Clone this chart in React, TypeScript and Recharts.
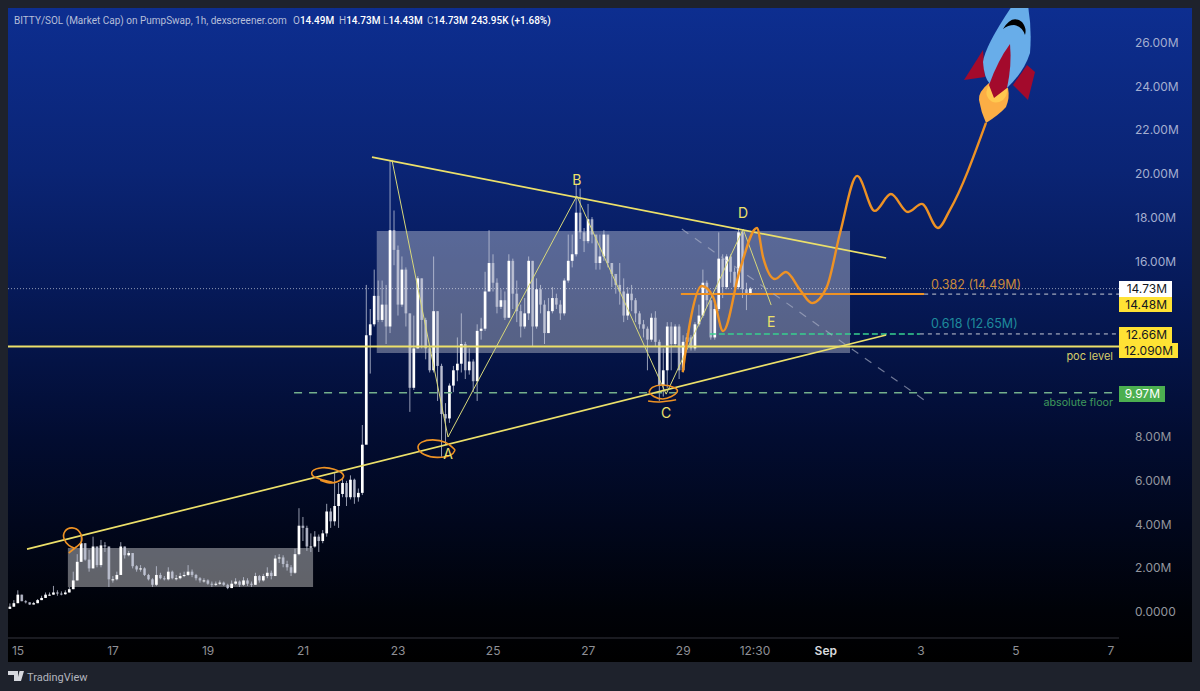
import React from 'react';
import { ComposedChart, Bar, Line, XAxis, YAxis, ReferenceLine, ReferenceArea, ReferenceDot } from 'recharts';

// 2h candles, one row per day, opens are the previous close
const closes = [
  0.2, 0.36, 0.75, 0.45, 0.4, 0.3, 0.36, 0.5, 0.6, 0.75, 0.75, 0.85,
  0.8, 0.77, 0.85, 1.0, 1.4, 2.25, 3.1, 2.35, 1.95, 2.95, 2.1, 3.0,
  2.95, 1.45, 1.45, 1.65, 2.95, 2.55, 2.65, 2.05, 1.9, 1.95, 1.65, 1.45,
  1.2, 1.65, 1.5, 1.45, 1.8, 1.5, 1.5, 1.6, 1.65, 1.8, 1.65, 1.5,
  1.4, 1.4, 1.25, 1.2, 1.25, 1.3, 1.2, 1.05, 1.25, 1.35, 1.2, 1.4,
  1.25, 1.2, 1.6, 1.4, 1.6, 1.75, 1.6, 2.4, 2.45, 2.15, 2.0, 1.75,
  2.6, 3.9, 3.8, 2.95, 2.95, 3.4, 3.2, 3.55, 4.55, 4.1, 4.8, 5.35,
  5.85, 5.2, 6.0, 5.2, 5.4, 7.6, 12.6, 13.1, 14.4, 13.3, 14.0, 13.0,
  17.4, 16.5, 14.0, 15.6, 13.6, 10.2, 12.0, 15.2, 13.3, 12.0, 11.0, 13.7,
  11.2, 9.0, 8.8, 10.3, 11.0, 11.3, 12.2, 11.0, 11.4, 10.5, 12.8, 12.9,
  14.6, 15.9, 15.0, 13.9, 14.2, 13.4, 16.0, 14.5, 13.7, 13.0, 13.6, 16.0,
  13.0, 14.7, 14.0, 12.7, 13.7, 14.3, 14.0, 13.6, 15.1, 16.0, 16.3, 18.2,
  17.3, 16.9, 17.9, 17.2, 15.9, 16.2, 17.2, 15.9, 15.4, 14.9, 14.6, 13.5,
  14.5, 14.2, 13.6, 13.1, 12.9, 12.4, 13.4, 12.3, 10.3, 11.0, 13.0, 12.2,
  13.0, 11.0, 12.3, 12.5, 12.0, 13.1, 13.5, 15.0, 14.2, 12.5, 13.8, 16.1,
  14.8, 16.2, 15.5, 14.8, 17.3, 14.7, 14.49, 14.73,
];
const highs = [
  0.35, 0.5, 0.95, 0.75, 0.5, 0.4, 0.42, 0.55, 0.7, 0.85, 0.85, 1.15,
  0.95, 0.9, 0.95, 1.1, 1.8, 2.6, 3.4, 3.1, 2.8, 3.4, 2.95, 3.25,
  3.15, 2.95, 1.6, 1.8, 3.15, 2.95, 2.75, 2.65, 2.1, 2.1, 2.0, 1.7,
  1.5, 2.05, 1.75, 1.6, 2.0, 1.85, 1.65, 1.75, 1.8, 2.1, 1.9, 1.7,
  1.55, 1.5, 1.45, 1.35, 1.35, 1.4, 1.35, 1.25, 1.4, 1.5, 1.4, 1.55,
  1.5, 1.35, 1.75, 1.65, 1.7, 2.0, 1.85, 2.55, 2.6, 2.55, 2.3, 2.1,
  2.85, 4.7, 4.3, 3.9, 3.55, 3.65, 3.5, 3.7, 4.9, 4.7, 6.3, 5.85,
  6.1, 5.95, 6.2, 6.05, 5.6, 8.5, 14.9, 13.8, 15.6, 15.1, 15.1, 14.9,
  20.6, 18.3, 16.7, 16.2, 15.7, 13.6, 13.5, 15.3, 15.2, 13.4, 12.1, 16.2,
  13.7, 11.3, 9.5, 10.4, 11.2, 12.5, 13.6, 12.3, 12.0, 11.5, 13.1, 13.4,
  15.5, 17.4, 16.3, 15.2, 14.7, 14.6, 16.3, 16.1, 15.1, 14.0, 14.3, 16.2,
  16.0, 15.2, 14.9, 14.2, 14.3, 14.8, 14.5, 14.2, 15.2, 17.2, 17.2, 19.5,
  19.3, 17.5, 18.6, 18.0, 17.0, 17.2, 17.4, 17.1, 15.9, 15.3, 15.9, 15.2,
  14.8, 14.9, 14.3, 13.7, 13.3, 13.0, 13.6, 13.7, 12.4, 12.0, 13.2, 13.2,
  13.1, 13.1, 12.6, 12.7, 12.6, 13.2, 14.0, 15.6, 15.1, 13.8, 14.2, 17.3,
  16.3, 16.3, 16.3, 15.7, 17.5, 17.4, 15.0, 14.8,
];
const lows = [
  0.1, 0.2, 0.36, 0.45, 0.35, 0.28, 0.3, 0.36, 0.5, 0.6, 0.7, 0.75,
  0.7, 0.72, 0.75, 0.85, 1.0, 1.4, 2.25, 2.3, 1.8, 1.95, 2.0, 2.0,
  2.7, 1.1, 1.3, 1.4, 1.65, 2.4, 2.5, 1.95, 1.8, 1.8, 1.6, 1.4,
  1.1, 1.15, 1.45, 1.4, 1.4, 1.45, 1.4, 1.45, 1.55, 1.6, 1.55, 1.4,
  1.3, 1.3, 1.2, 1.1, 1.15, 1.2, 1.15, 1.0, 1.05, 1.2, 1.1, 1.15,
  1.15, 1.1, 1.2, 1.3, 1.35, 1.5, 1.45, 1.6, 2.2, 2.0, 1.85, 1.6,
  1.7, 2.55, 3.2, 2.75, 2.7, 2.9, 2.7, 3.1, 3.4, 3.8, 3.9, 3.8,
  5.2, 4.8, 5.1, 4.9, 5.0, 5.3, 8.0, 10.85, 13.0, 13.2, 13.2, 12.2,
  12.7, 15.8, 13.5, 13.9, 13.0, 9.1, 10.1, 12.0, 12.0, 11.5, 10.9, 10.9,
  9.6, 7.05, 7.6, 8.6, 10.0, 10.5, 10.9, 10.6, 10.8, 10.0, 9.6, 12.4,
  12.8, 14.6, 14.6, 13.6, 13.8, 13.3, 13.4, 13.8, 13.2, 12.5, 12.9, 13.3,
  12.1, 12.9, 13.6, 12.2, 12.7, 13.6, 13.8, 13.3, 13.5, 15.0, 15.7, 16.2,
  17.0, 16.4, 16.8, 16.8, 15.6, 15.6, 16.0, 15.7, 14.8, 14.5, 14.0, 13.2,
  13.3, 13.7, 13.2, 12.9, 12.5, 11.0, 12.3, 12.1, 9.6, 9.8, 10.2, 11.0,
  12.1, 10.6, 10.9, 12.1, 11.9, 11.9, 13.0, 13.4, 13.9, 12.4, 12.4, 13.7,
  14.3, 14.7, 15.0, 14.6, 14.7, 14.3, 13.75, 14.43,
];

// 10, 12 and 14 sit under the price tags in the reference
const priceTicks = [0, 2, 4, 6, 8, 16, 18, 20, 22, 24, 26];
const timeTicks = [15, 17, 19, 21, 23, 25, 27, 29, 30.51, 32, 34, 36, 38];
const timeLabels = ['15', '17', '19', '21', '23', '25', '27', '29', '12:30', 'Sep', '3', '5', '7'];

// wave A-E, all in days of August / market cap in millions
const waveDays = [22.87, 24.05, 26.76, 28.64, 30.26, 30.85];
const waveValues = [20.61, 7.95, 18.96, 9.91, 17.45, 13.98];
const waveLetters = ['A', 'B', 'C', 'D', 'E'];
const letterDays = [24.05, 26.76, 28.64, 30.26, 30.85];
const letterValues = [7.17, 19.69, 9.05, 18.18, 13.2];

// hand drawn projection
const pathDays = [28.99, 29.14, 29.39, 29.63, 29.84, 30.19, 30.55, 30.68, 30.93, 31.16, 31.46, 31.71, 32.02, 32.3, 32.66, 33.03, 33.37, 33.73, 34.02, 34.36, 34.61, 35.37];
const pathValues = [10.92, 13.16, 14.85, 14.35, 12.79, 15.58, 17.5, 16.17, 15.17, 15.49, 14.67, 14.07, 14.8, 17.27, 19.88, 18.28, 19.05, 18.23, 18.6, 17.5, 18.32, 22.3];

// orange rings round the touches
const ringOneDays = [16.07, 16.24, 16.34, 16.3, 16.14, 15.99, 15.97, 16.07, 16.18];
const ringOneValues = [2.65, 2.95, 3.2, 3.6, 3.8, 3.65, 3.3, 3.0, 2.88];
const ringTwoDays = [21.36, 21.6, 21.8, 21.84, 21.65, 21.4, 21.2, 21.22, 21.4, 21.62];
const ringTwoValues = [5.98, 5.85, 6.0, 6.25, 6.48, 6.55, 6.4, 6.15, 6.0, 5.88];
const ringThreeDays = [24.2, 24.1, 23.82, 23.55, 23.42, 23.5, 23.73, 24.0, 24.2];
const ringThreeValues = [7.36, 7.12, 7.02, 7.15, 7.45, 7.72, 7.82, 7.7, 7.36];
const ringFourDays = [28.28, 28.35, 28.57, 28.82, 28.87, 28.75, 28.57, 28.38, 28.28];
const ringFourValues = [10.0, 10.22, 10.33, 10.2, 10.0, 9.8, 9.69, 9.8, 10.0];
const underlineDays = [28.26, 28.5, 28.85];
const underlineValues = [9.6, 9.55, 9.65];

const candles = closes.map((close, i) => ({
  day: 14.83 + i / 12,
  open: i === 0 ? 0.1 : closes[i - 1],
  close,
  high: highs[i],
  low: lows[i],
  range: [lows[i], highs[i]],
}));

const toRows = (days: number[], values: number[]) => days.map((day, i) => ({ day, value: values[i] }));

const YELLOW = '#ece06a';
const ORANGE = '#ee9224';
const BODY_WIDTH = 2.7;

function Candle(props: any) {
  const { x, y, width, height, payload } = props;
  const { open, close, high, low } = payload;
  const perUnit = Math.abs(height) / (high - low);
  const wickTop = Math.min(y, y + height);
  const top = wickTop + (high - Math.max(open, close)) * perUnit;
  const bodyH = Math.max(1, Math.abs(open - close) * perUnit);
  const up = close >= open;
  const mid = x + width / 2;
  return (
    <g>
      <rect x={mid - 0.5} y={wickTop} width={1} height={Math.abs(height)} fill="#c6cbdc" fillOpacity={0.75} />
      <rect x={mid - BODY_WIDTH / 2} y={top} width={BODY_WIDTH} height={bodyH} fill={up ? '#ffffff' : '#c4c8d8'} fillOpacity={up ? 1 : 0.8} />
    </g>
  );
}

function TimeTick(props: any) {
  const { x, y, index } = props;
  const bold = timeLabels[index] === 'Sep';
  return (
    <text x={x} y={y + 9} textAnchor="middle" fontFamily="Inter" fontSize={12} fontWeight={bold ? 600 : 400} fill={bold ? '#d8d9dd' : '#8f9096'}>
      {timeLabels[index]}
    </text>
  );
}

function PriceTick(props: any) {
  const { x, y, payload } = props;
  const label = payload.value === 0 ? '0.0000' : payload.value.toFixed(2) + 'M';
  const shade = payload.value > 12 ? '#a4aed0' : '#93969f';
  return (
    <text x={x + 8} y={y + 5} fontFamily="Inter" fontSize={12} fill={shade}>
      {label}
    </text>
  );
}

function Tag({ top, width, bg, color, children }: any) {
  return (
    <div style={{ position: 'absolute', left: 1119, top, width, height: 15.5, background: bg, color, fontSize: 12, lineHeight: '15.5px', textAlign: 'right', paddingRight: 5, boxSizing: 'border-box' }}>
      {children}
    </div>
  );
}

function Note({ left, right, top, color, size, font, children }: any) {
  return (
    <div style={{ position: 'absolute', left, right, top, color, fontSize: size, fontFamily: font, whiteSpace: 'nowrap' }}>
      {children}
    </div>
  );
}

function Rocket() {
  return (
    <svg width={1200} height={691} style={{ position: 'absolute', left: 0, top: 0, pointerEvents: 'none' }}>
      <defs>
        <clipPath id="panel"><rect x={8} y={8} width={1184} height={654} /></clipPath>
      </defs>
      <g clipPath="url(#panel)">
        <path d="M989,83 Q978,92 979,100 Q981,112 986,123 Q1000,114 1006,107 Q1010,98 1008,88 Z" fill="#fcae45" />
        <path d="M990,84 Q984,92 988,98 Q994,106 1003,100 Q1008,95 1007,88 Z" fill="#ffc94f" />
        <path d="M983,50 L964,80 L985,77 Z" fill="#a30a2c" />
        <path d="M1027,65 L1035,72 L1028,100 L1013,85 Z" fill="#a30a2c" />
        <path d="M1012,6 Q985,46 983,62 Q984,78 990,84 Q998,90 1007,88 Q1024,72 1030,53 Q1032,28 1028,6 Z" fill="#68ade9" />
        <path d="M1010,44 Q998,60 989,85 L994,98 L1007,88 Q1012,65 1010,44 Z" fill="#a30a2c" />
        <path d="M1003,29 Q1012,14 1022,22 Q1027,28 1025,35 Q1022,26 1014,25 Q1008,25 1003,29 Z" fill="#000" />
      </g>
      <path d="M8,671 H18 V681 H14 V675 H8 Z M19.5,671 H24 L21,681 H17 Z" fill="#d6d8de" />
    </svg>
  );
}

const headFont = 'Roboto';
const headSize = 10;
const headStrong = { color: '#fff', fontWeight: 500 };

export default function App() {
  return (
    <div style={{ position: 'absolute', left: 0, top: 0, width: 1200, height: 691, background: '#1e222c', overflow: 'hidden', fontFamily: 'Inter, sans-serif' }}>
      <div style={{ position: 'absolute', left: 8, top: 8, width: 1184, height: 654, background: 'linear-gradient(180deg, #0d2e90 0%, #0a2474 25%, #061a5a 42%, #020c30 66%, #000208 92%, #000 100%)' }} />
      <div style={{ position: 'absolute', left: 8, top: 8 }}>
        <ComposedChart width={1184} height={654} data={candles} margin={{ top: 0, right: 0, bottom: 0, left: 0 }}>
          <XAxis
            dataKey="day"
            type="number"
            scale="linear"
            domain={[14.79, 38.17]}
            ticks={timeTicks}
            interval={0}
            allowDataOverflow
            height={24}
            tick={<TimeTick />}
            tickLine={false}
            axisLine={{ stroke: '#34363e' }}
          />
          <YAxis
            orientation="right"
            type="number"
            domain={[-1.23, 27.55]}
            ticks={priceTicks}
            interval={0}
            allowDataOverflow
            width={73}
            tick={<PriceTick />}
            tickLine={false}
            axisLine={false}
          />

          <ReferenceArea x1={22.55} x2={32.51} y1={11.79} y2={17.36} fill="#ffffff" fillOpacity={0.33} stroke="none" />
          <ReferenceArea x1={16.05} x2={21.21} y1={1.1} y2={2.88} fill="#ffffff" fillOpacity={0.38} stroke="none" />

          <ReferenceLine y={14.73} stroke="#ffffff" strokeOpacity={0.55} strokeDasharray="1 2" />

          <Bar dataKey="range" barSize={3} shape={<Candle />} isAnimationActive={false} />

          <ReferenceLine y={12.09} stroke={YELLOW} strokeWidth={2} />
          <ReferenceLine segment={[{ x: 20.81, y: 9.97 }, { x: 38.17, y: 9.97 }]} stroke="#74b08c" strokeWidth={1.5} strokeDasharray="8 7" />
          <ReferenceLine segment={[{ x: 29.56, y: 12.66 }, { x: 33.98, y: 12.66 }]} stroke="#37d18e" strokeWidth={1.5} strokeDasharray="6 3" />
          <ReferenceLine segment={[{ x: 33.98, y: 12.66 }, { x: 38.17, y: 12.66 }]} stroke="#c8cbd6" strokeWidth={1} strokeDasharray="4 4" />
          <ReferenceLine segment={[{ x: 28.95, y: 14.48 }, { x: 34.07, y: 14.48 }]} stroke={ORANGE} strokeWidth={2} />
          <ReferenceLine segment={[{ x: 34.07, y: 14.48 }, { x: 38.17, y: 14.48 }]} stroke="#c8cbd6" strokeWidth={1} strokeDasharray="4 4" />
          <ReferenceLine segment={[{ x: 28.97, y: 17.45 }, { x: 34.07, y: 9.64 }]} stroke="#aab0c6" strokeOpacity={0.65} strokeWidth={1.2} strokeDasharray="8 8" />
          <ReferenceLine segment={[{ x: 22.45, y: 20.74 }, { x: 33.27, y: 16.13 }]} stroke={YELLOW} strokeWidth={1.7} />
          <ReferenceLine segment={[{ x: 15.19, y: 2.83 }, { x: 33.27, y: 12.61 }]} stroke={YELLOW} strokeWidth={1.7} />

          <Line data={toRows(waveDays, waveValues)} dataKey="value" stroke="#d8d87a" strokeWidth={1} dot={false} isAnimationActive={false} />
          <Line data={toRows(pathDays, pathValues)} dataKey="value" type="monotone" stroke={ORANGE} strokeWidth={2.4} dot={false} isAnimationActive={false} />
          <Line data={toRows(ringOneDays, ringOneValues)} dataKey="value" type="natural" stroke={ORANGE} strokeWidth={1.6} dot={false} isAnimationActive={false} />
          <Line data={toRows(ringTwoDays, ringTwoValues)} dataKey="value" type="natural" stroke={ORANGE} strokeWidth={1.6} dot={false} isAnimationActive={false} />
          <Line data={toRows(ringThreeDays, ringThreeValues)} dataKey="value" type="natural" stroke={ORANGE} strokeWidth={1.6} dot={false} isAnimationActive={false} />
          <Line data={toRows(ringFourDays, ringFourValues)} dataKey="value" type="natural" stroke={ORANGE} strokeWidth={1.6} dot={false} isAnimationActive={false} />
          <Line data={toRows(underlineDays, underlineValues)} dataKey="value" type="natural" stroke={ORANGE} strokeWidth={1.6} dot={false} isAnimationActive={false} />

          {waveLetters.map((letter, i) => (
            <ReferenceDot
              key={letter}
              x={letterDays[i]}
              y={letterValues[i]}
              r={0}
              stroke="none"
              fill="none"
              label={{ value: letter, position: 'center', fill: '#ece06a', fontSize: 14, fontFamily: 'Inter' }}
            />
          ))}
        </ComposedChart>
      </div>

      <Rocket />

      <Note left={14} top={15} color="#b6bfd9" size={headSize} font={headFont}>BITTY/SOL (Market Cap) on PumpSwap, 1h, dexscreener.com</Note>
      <Note left={293} top={15} color="#b6bfd9" size={headSize} font={headFont}>O<b style={headStrong}>14.49M</b></Note>
      <Note left={339} top={15} color="#b6bfd9" size={headSize} font={headFont}>H<b style={headStrong}>14.73M</b></Note>
      <Note left={383} top={15} color="#b6bfd9" size={headSize} font={headFont}>L<b style={headStrong}>14.43M</b></Note>
      <Note left={427} top={15} color="#b6bfd9" size={headSize} font={headFont}>C<b style={headStrong}>14.73M</b></Note>
      <Note left={471} top={15} color="#fff" size={headSize} font={headFont}><b style={{ fontWeight: 500 }}>243.95K (+1.68%)</b></Note>

      <Note left={931} top={277} color="#c98a3c" size={12.5}>0.382 (14.49M)</Note>
      <Note left={931} top={316} color="#1f8a9c" size={12.5}>0.618 (12.65M)</Note>
      <Note right={87} top={349} color="#d6cc6a" size={11}>poc level</Note>
      <Note right={87} top={396} color="#3f9a5c" size={10.7}>absolute floor</Note>

      <Tag top={281} width={53} bg="#ffffff" color="#131722">14.73M</Tag>
      <Tag top={296.5} width={53} bg="#ffe234" color="#131722">14.48M</Tag>
      <Tag top={327} width={53} bg="#ffe234" color="#131722">12.66M</Tag>
      <Tag top={342.5} width={59} bg="#ffe234" color="#131722">12.090M</Tag>
      <Tag top={386} width={46} bg="#4caf50" color="#ffffff">9.97M</Tag>

      <Note left={27} top={671} color="#b2b5be" size={11} font={headFont}>TradingView</Note>
    </div>
  );
}
